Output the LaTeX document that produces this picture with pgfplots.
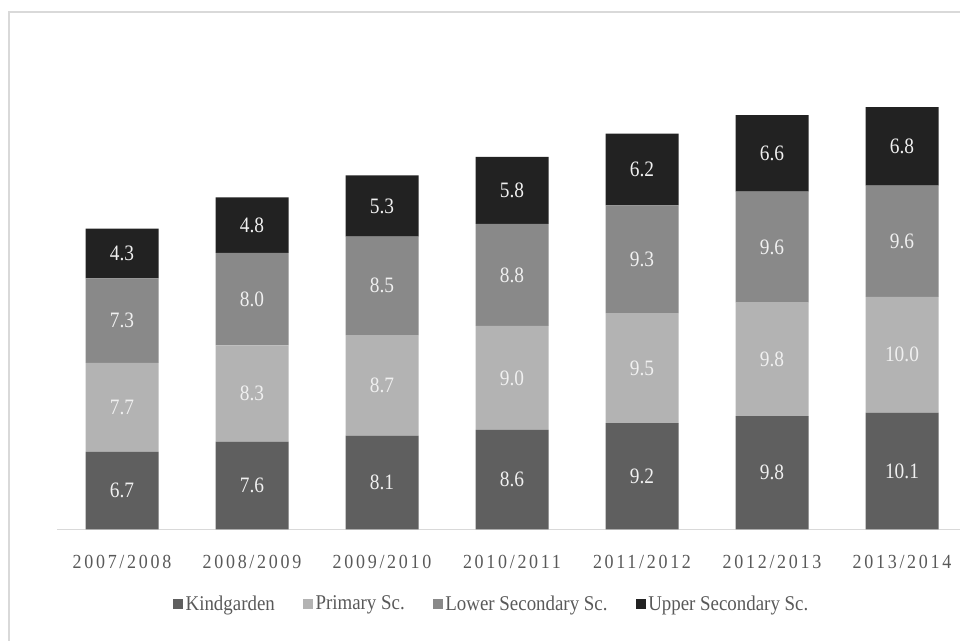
\documentclass[border=0pt]{standalone}
\usepackage{fontspec}
\setmainfont{Liberation Serif}
\usepackage{pgfplots}
\pgfplotsset{compat=1.18}
\usepackage{pgfplotstable}
\newfontfamily\valfont[FakeStretch=0.88]{Liberation Serif}
\newfontfamily\tickfont[FakeStretch=0.9,LetterSpace=13.5]{Liberation Serif}
\newfontfamily\legfont[FakeStretch=0.9]{Liberation Serif}

\definecolor{kgcol}{HTML}{5F5F5F}
\definecolor{prcol}{HTML}{B3B3B3}
\definecolor{lscol}{HTML}{898989}
\definecolor{uscol}{HTML}{222222}
\definecolor{txtgray}{HTML}{595959}
\definecolor{framegray}{HTML}{D9D9D9}

% school year, Kindgarden, Primary, Lower secondary, Upper secondary
\pgfplotstableread{
x  kg   pr   ls   us
0  6.7  7.7  7.3  4.3
1  7.6  8.3  8.0  4.8
2  8.1  8.7  8.5  5.3
3  8.6  9.0  8.8  5.8
4  9.2  9.5  9.3  6.2
5  9.8  9.8  9.6  6.6
6  10.1 10.0 9.6  6.8
}\enrol

\begin{document}
\begin{tikzpicture}
\useasboundingbox (0,0) rectangle (720pt,480.75pt);
\clip (0,0) rectangle (720pt,480.75pt);
\draw[framegray, line width=1.5pt] (6.75pt,-20pt) rectangle (760pt,472pt);

\begin{axis}[
  at={(42.75pt,83.625pt)}, anchor=south west,
  scale only axis,
  width=682.5pt, height=347.25pt,
  xmin=-0.5, xmax=6.5, ymin=0, ymax=40,
  ybar stacked, bar width=54.75pt,
  axis y line=none,
  axis x line*=bottom,
  x axis line style={draw=framegray, line width=1.1pt},
  xtick={0,...,6},
  xticklabels={2007/2008,2008/2009,2009/2010,2010/2011,2011/2012,2012/2013,2013/2014},
  major tick length=0pt,
  xticklabel style={anchor=base, yshift=-29.25pt, font=\tickfont\fontsize{15pt}{15pt}\selectfont, text=txtgray},
  point meta=explicit symbolic,
  nodes near coords={\pgfplotspointmeta},
  every node near coord/.append style={anchor=center, text=white!94!black,
    font=\valfont\fontsize{16.5pt}{16.5pt}\selectfont},
  legend columns=4,
  legend style={draw=none, fill=none, at={(0.478,-0.161)}, anchor=center,
    font=\legfont\fontsize{15.75pt}{15.75pt}\selectfont, text=txtgray,
    /tikz/every even column/.append style={column sep=19pt}},
  legend image code/.code={\fill[#1] (0pt,-3.75pt) rectangle (7.5pt,3.75pt);},
]
\addplot[fill=kgcol, draw=none] table[x=x, y=kg, meta=kg] {\enrol};
\addplot[fill=prcol, draw=none] table[x=x, y=pr, meta=pr] {\enrol};
\addplot[fill=lscol, draw=none] table[x=x, y=ls, meta=ls] {\enrol};
\addplot[fill=uscol, draw=none] table[x=x, y=us, meta=us] {\enrol};
\legend{Kindgarden, Primary Sc., Lower Secondary Sc., Upper Secondary Sc.}
\end{axis}
\end{tikzpicture}
\end{document}
